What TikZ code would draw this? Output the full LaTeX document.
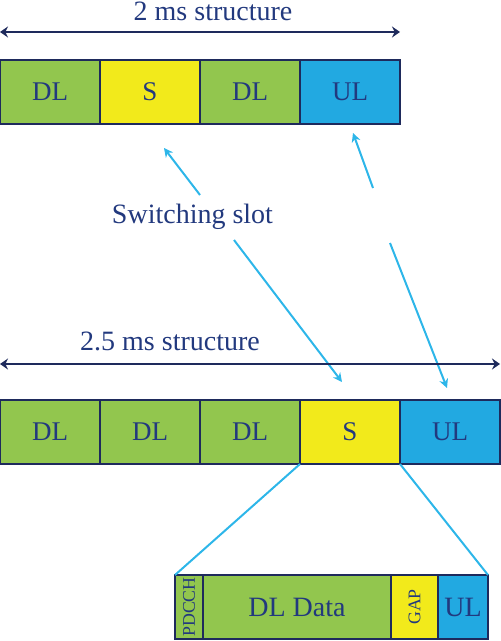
\documentclass[tikz,border=0pt]{standalone}
\usepackage{fontspec}
\setmainfont{Liberation Serif}
\usetikzlibrary{arrows.meta,positioning}
\definecolor{framenavy}{HTML}{1E2A5C}
\definecolor{labelblue}{HTML}{22397E}
\definecolor{dlgreen}{HTML}{92C64E}
\definecolor{syellow}{HTML}{F2EA1B}
\definecolor{ulblue}{HTML}{22A9E1}
\definecolor{pointblue}{HTML}{2DB6E9}
\tikzset{
  slot/.style={rectangle, draw=framenavy, line width=1pt, minimum width=50pt, minimum height=32pt,
               inner sep=0pt, outer sep=0pt, text=labelblue, font=\fontsize{13.5}{16}\selectfont},
  dl/.style={slot, fill=dlgreen},
  sw/.style={slot, fill=syellow},
  ul/.style={slot, fill=ulblue},
  small/.style={font=\fontsize{8.9}{10}\selectfont},
  span/.style={{Stealth[length=4pt,width=5.5pt]}-{Stealth[length=4pt,width=5.5pt]}, draw=framenavy, line width=1.1pt},
  pointer/.style={-{Stealth[length=4.5pt,width=4.5pt]}, draw=pointblue, line width=1pt},
  zoomline/.style={draw=pointblue, line width=1pt},
  caption/.style={anchor=base, text=labelblue, font=\fontsize{14}{16}\selectfont}
}

\begin{document}
\begin{tikzpicture}[x=0.5pt,y=-0.5pt]
    \useasboundingbox (0,0) rectangle (500,641);

      % Draw 2 ms frame with its span arrow.
      \node[caption] (twotitle) at (213,20.7) {2 ms structure};
      \coordinate (twoleft) at (0,32);
      \coordinate (tworight) at (400,32);
      \draw[span] (twoleft) -- (tworight);
      \node[dl] (ta) at (50,92) {DL};
      \node[sw, right=0pt of ta] (tb) {S};
      \node[dl, right=0pt of tb] (tc) {DL};
      \node[ul, right=0pt of tc] (td) {UL};

      % Switching slot label and its pointers.
      \node[caption] (switching) at (192.5,224) {Switching slot};
      \coordinate (upa) at (200,195);
      \coordinate (upatip) at (164,148);
      \coordinate (upb) at (373,188);
      \coordinate (upbtip) at (353,133);
      \coordinate (downa) at (234,240);
      \coordinate (downatip) at (342,382);
      \coordinate (downb) at (390,243);
      \coordinate (downbtip) at (447,388);
      \draw[pointer] (upa) -- (upatip);
      \draw[pointer] (upb) -- (upbtip);
      \draw[pointer] (downa) -- (downatip);
      \draw[pointer] (downb) -- (downbtip);

      % Draw 2.5 ms frame with its span arrow.
      \node[caption] (fivetitle) at (170,350) {2.5 ms structure};
      \coordinate (fiveleft) at (0,364);
      \coordinate (fiveright) at (500,364);
      \draw[span] (fiveleft) -- (fiveright);
      \node[dl] (ba) at (50,432) {DL};
      \node[dl, right=0pt of ba] (bb) {DL};
      \node[dl, right=0pt of bb] (bc) {DL};
      \node[sw, right=0pt of bc] (bd) {S};
      \node[ul, right=0pt of bd] (be) {UL};

      % Now draw the expanded switching slot.
      \node[dl, small, minimum width=14pt] (pdcch) at (189,607) {\rotatebox{90}{PDCCH}};
      \node[dl, minimum width=94pt, font=\fontsize{14}{16}\selectfont, right=0pt of pdcch] (dldata) {DL Data};
      \node[sw, small, minimum width=23.5pt, right=0pt of dldata] (gap) {\rotatebox{90}{GAP}};
      \node[ul, minimum width=25pt, font=\fontsize{14}{16}\selectfont, right=0pt of gap] (ulsub) {UL};
      \draw[zoomline] (bd.south west) -- (pdcch.north west);
      \draw[zoomline] (bd.south east) -- (ulsub.north east);
\end{tikzpicture}
\end{document}
